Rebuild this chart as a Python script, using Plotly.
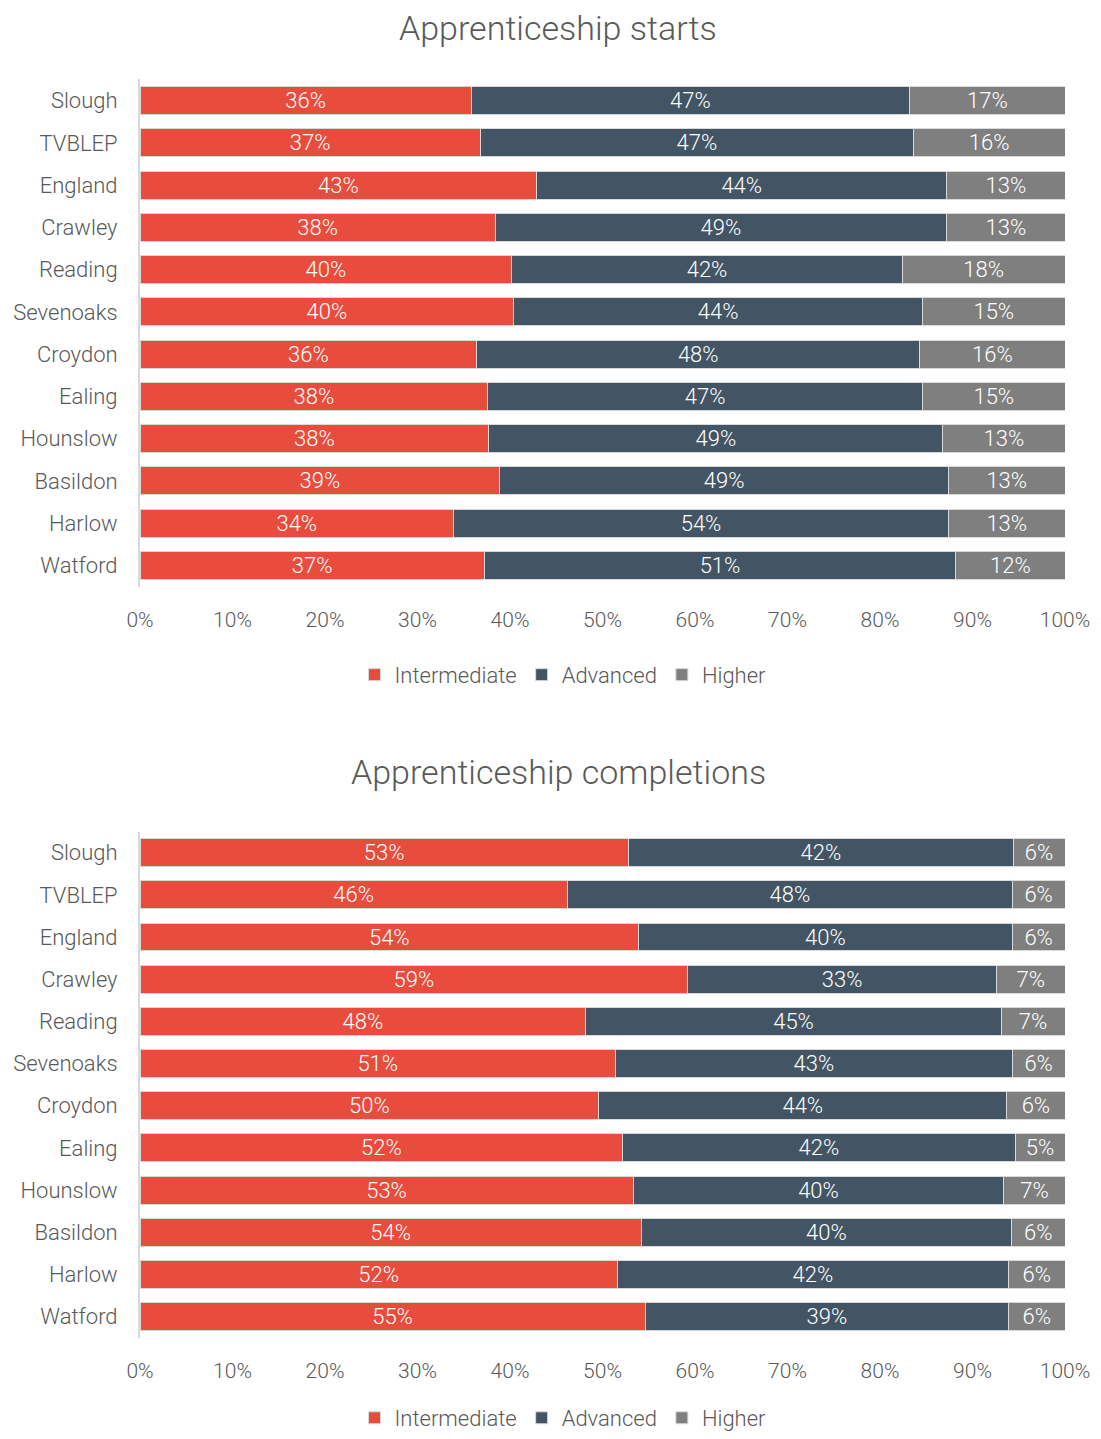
import plotly.graph_objects as go
from plotly.subplots import make_subplots

areas = ["Slough", "TVBLEP", "England", "Crawley", "Reading", "Sevenoaks",
         "Croydon", "Ealing", "Hounslow", "Basildon", "Harlow", "Watford"]
series = ["Intermediate", "Advanced", "Higher"]

starts_intermediate = [35.8, 36.8, 42.9, 38.4, 40.2, 40.4, 36.4, 37.6, 37.7, 38.9, 33.9, 37.2]
starts_advanced     = [47.4, 46.8, 44.3, 48.8, 42.2, 44.2, 47.9, 47.0, 49.1, 48.5, 53.5, 51.0]
starts_higher       = [16.8, 16.4, 12.8, 12.8, 17.6, 15.4, 15.7, 15.4, 13.2, 12.6, 12.6, 11.8]

compl_intermediate = [52.8, 46.2, 53.9, 59.2, 48.2, 51.4, 49.6, 52.2, 53.3, 54.2, 51.6, 54.6]
compl_advanced     = [41.6, 48.1, 40.4, 33.4, 44.9, 42.9, 44.1, 42.4, 40.1, 40.0, 42.3, 39.3]
compl_higher       = [5.6, 5.7, 5.7, 7.4, 6.9, 5.7, 6.3, 5.4, 6.6, 5.8, 6.1, 6.1]

titles = ["Apprenticeship starts", "Apprenticeship completions"]
x_ticks = [0, 10, 20, 30, 40, 50, 60, 70, 80, 90, 100]
x_tick_labels = [f"{t}%" for t in x_ticks]

colors = ["#E84C3D", "#435564", "#7F7F7F"]
FONT = "Roboto"
TXT = "#595959"

OFF = 8  # page body margin
W, H = 1101 - OFF, 1439 - OFF
L, R = 140 - OFF, 36
PW = W - L - R

def px_x(p):
    return (p - OFF - L) / PW

def px_y(p):
    return 1 - (p - OFF) / H

fig = make_subplots(rows=2, cols=1)

datasets = [
    [starts_intermediate, starts_advanced, starts_higher],
    [compl_intermediate, compl_advanced, compl_higher],
]

for r, ds in enumerate(datasets, start=1):
    for name, vals, col in zip(series, ds, colors):
        fig.add_trace(go.Bar(
            y=areas, x=vals, name=name, orientation="h",
            marker=dict(color=col, line=dict(color="#D9D9D9", width=1)),
            texttemplate="%{x:.0f}%", textposition="inside",
            insidetextanchor="middle", constraintext="none",
            textfont=dict(color="white", size=22, family=FONT, weight=300),
            legend="legend" if r == 1 else "legend2",
            showlegend=True,
            hoverinfo="skip",
        ), row=r, col=1)

doms = [[px_y(591), px_y(80)], [px_y(1348), px_y(838)]]

fig.update_layout(
    width=W, height=H,
    barmode="stack", bargap=0.34,
    plot_bgcolor="white", paper_bgcolor="white",
    margin=dict(l=L, r=R, t=0, b=0),
    font=dict(family=FONT, color=TXT, weight=300),
    legend=dict(orientation="h",
                x=px_x(563), xanchor="center", y=px_y(680), yanchor="middle",
                font=dict(size=22, color=TXT, family=FONT, weight=300),
                traceorder="normal"),
    legend2=dict(orientation="h",
                 x=px_x(563), xanchor="center", y=px_y(1429), yanchor="middle",
                 font=dict(size=22, color=TXT, family=FONT, weight=300),
                 traceorder="normal"),
)

for i in (1, 2):
    fig.update_xaxes(range=[0, 100], tickvals=x_ticks, ticktext=x_tick_labels,
                     showgrid=False, zeroline=False, showline=False, ticks="",
                     ticklabelstandoff=18,
                     tickfont=dict(size=21, color=TXT, family=FONT, weight=300),
                     row=i, col=1)
    fig.update_yaxes(autorange="reversed", domain=doms[i - 1], showgrid=False,
                     showline=True, linecolor="#D9D9D9", linewidth=2, ticks="",
                     ticklabelstandoff=16,
                     tickfont=dict(size=22, color=TXT, family=FONT, weight=300),
                     row=i, col=1)

for t, ypix in zip(titles, [28, 778]):
    fig.add_annotation(text=t, xref="paper", yref="paper",
                       x=px_x(558), y=px_y(ypix), xanchor="center", yanchor="middle",
                       showarrow=False,
                       font=dict(size=34, color=TXT, family=FONT, weight=300))

fig.write_html("out.html")
